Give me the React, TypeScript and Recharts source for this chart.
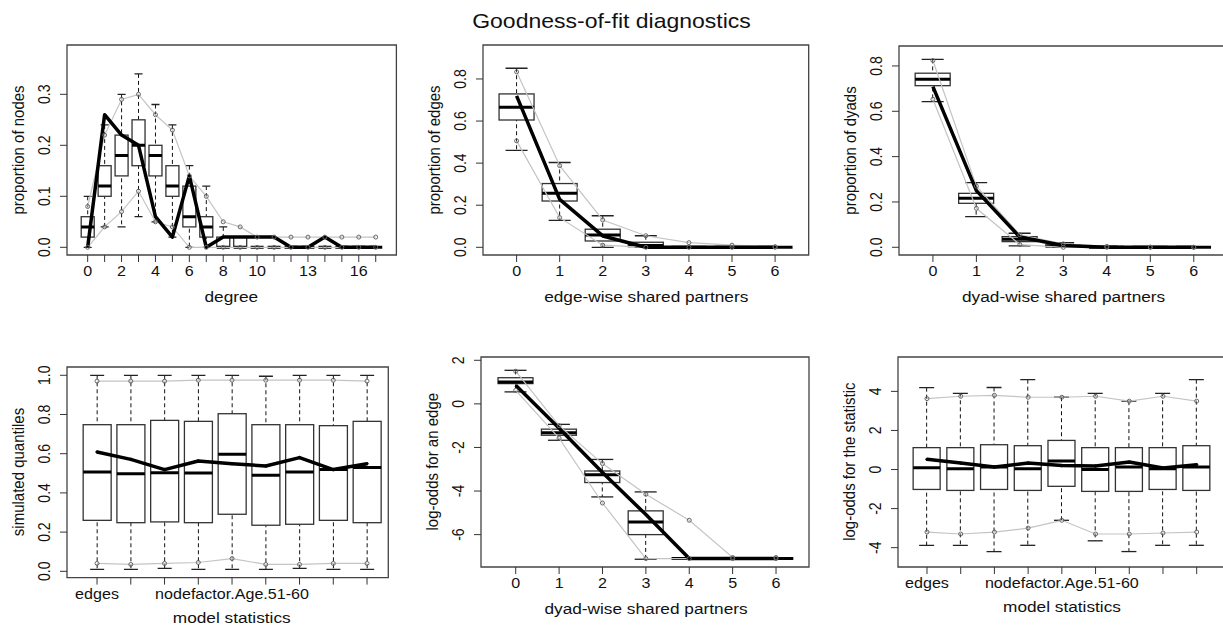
import React from "react";
import {Bar, ComposedChart, Line, ReferenceArea, XAxis, YAxis} from "recharts";

const FONT = '"Liberation Sans", Arial, Helvetica, sans-serif';
// the reference is a little wider than tall, so glyphs get stretched sideways
const STRETCH = 1.15;

// degree
const degreeCats = [0, 1, 2, 3, 4, 5, 6, 7, 8, 9, 10, 11, 12, 13, 14, 15, 16, 17];
const degreeShown = [0, 2, 4, 6, 8, 10, 13, 16];
const degreeLo = [0, 0.04, 0.04, 0.06, 0.05, 0.02, 0, 0, 0, 0, 0, 0, 0, 0, 0, 0, 0, 0];
const degreeQ1 = [0.02, 0.10, 0.14, 0.16, 0.14, 0.10, 0.04, 0.02, 0, 0, 0, 0, 0, 0, 0, 0, 0, 0];
const degreeMed = [0.04, 0.12, 0.18, 0.20, 0.18, 0.12, 0.06, 0.04, 0, 0, 0, 0, 0, 0, 0, 0, 0, 0];
const degreeQ3 = [0.06, 0.16, 0.22, 0.25, 0.20, 0.16, 0.12, 0.06, 0.02, 0.02, 0, 0, 0, 0, 0, 0, 0, 0];
const degreeHi = [0.10, 0.24, 0.30, 0.34, 0.28, 0.24, 0.16, 0.12, 0.04, 0.02, 0, 0, 0, 0, 0, 0, 0, 0];
const degreeSimLo = [0, 0.04, 0.07, 0.11, 0.05, 0.04, 0, 0, 0, 0, 0, 0, 0, 0, 0, 0, 0, 0];
const degreeSimHi = [0.08, 0.22, 0.29, 0.30, 0.26, 0.23, 0.14, 0.10, 0.05, 0.04, 0.02, 0.02, 0.02, 0.02, 0.02, 0.02, 0.02, 0.02];
const degreeObs = [0, 0.26, 0.22, 0.20, 0.06, 0.02, 0.14, 0, 0.02, 0.02, 0.02, 0.02, 0, 0, 0.02, 0, 0, 0];

// edge-wise shared partners
const espCats = [0, 1, 2, 3, 4, 5, 6];
const espLo = [0.461, 0.128, 0, 0, 0, 0, 0];
const espQ1 = [0.605, 0.22, 0.03, 0.003, 0, 0, 0];
const espMed = [0.666, 0.257, 0.059, 0.008, 0, 0, 0];
const espQ3 = [0.729, 0.303, 0.086, 0.024, 0, 0, 0];
const espHi = [0.851, 0.403, 0.15, 0.055, 0, 0, 0];
const espSimLo = [0.506, 0.141, 0.01, 0, 0, 0, 0];
const espSimHi = [0.834, 0.388, 0.13, 0.055, 0.022, 0.01, 0.003];
const espObs = [0.72, 0.228, 0.054, 0, 0, 0, 0];

// dyad-wise shared partners
const dspCats = [0, 1, 2, 3, 4, 5, 6];
const dspLo = [0.643, 0.135, 0.006, 0, 0, 0, 0];
const dspQ1 = [0.713, 0.194, 0.025, 0.003, 0, 0, 0];
const dspMed = [0.741, 0.216, 0.035, 0.006, 0, 0, 0];
const dspQ3 = [0.768, 0.238, 0.047, 0.01, 0.002, 0, 0];
const dspHi = [0.829, 0.285, 0.062, 0.02, 0.005, 0, 0];
const dspSimLo = [0.653, 0.172, 0.012, 0, 0, 0, 0];
const dspSimHi = [0.824, 0.27, 0.055, 0.015, 0.004, 0.001, 0];
const dspObs = [0.709, 0.25, 0.045, 0.008, 0, 0, 0];

// model statistics (quantiles)
const statCats = [0, 1, 2, 3, 4, 5, 6, 7, 8];
const statNames = ["edges", "", "", "", "nodefactor.Age.51-60", "", "", "", ""];
const quantLo = [0.01, 0.01, 0.015, 0.01, 0.01, 0.01, 0.015, 0.01, 0.01];
const quantQ1 = [0.26, 0.248, 0.252, 0.248, 0.291, 0.235, 0.24, 0.26, 0.248];
const quantMed = [0.507, 0.498, 0.503, 0.502, 0.597, 0.49, 0.507, 0.52, 0.529];
const quantQ3 = [0.748, 0.748, 0.77, 0.765, 0.804, 0.748, 0.748, 0.743, 0.765];
const quantHi = [1, 1, 1, 1, 1, 0.995, 1, 1, 1];
const quantSimLo = [0.04, 0.035, 0.04, 0.045, 0.065, 0.035, 0.035, 0.04, 0.04];
const quantSimHi = [0.97, 0.97, 0.97, 0.975, 0.975, 0.975, 0.975, 0.975, 0.97];
const quantObs = [0.609, 0.571, 0.519, 0.563, 0.549, 0.537, 0.58, 0.519, 0.549];

// dyad-wise shared partners, log-odds
const lodCats = [0, 1, 2, 3, 4, 5, 6];
const lodLo = [0.55, -1.67, -4.27, -7.13, -7.1, -7.1, -7.1];
const lodQ1 = [0.93, -1.44, -3.61, -6.0, -7.1, -7.1, -7.1];
const lodMed = [1.0, -1.32, -3.25, -5.42, -7.1, -7.1, -7.1];
const lodQ3 = [1.2, -1.16, -3.08, -4.91, -7.1, -7.1, -7.1];
const lodHi = [1.54, -0.94, -2.55, -4.04, -7.1, -7.1, -7.1];
const lodSimLo = [0.62, -1.57, -4.55, -7.1, -7.1, -7.1, -7.1];
const lodSimHi = [1.5, -1.0, -2.74, -4.15, -5.34, -7.05, -7.05];
const lodObs = [0.85, -1.12, -3.15, -5.08, -7.1, -7.1, -7.1];

// model statistics, log-odds
const slLo = [-3.88, -3.88, -4.2, -3.88, -2.6, -3.65, -4.2, -3.88, -3.88];
const slQ1 = [-1.02, -1.07, -1.02, -1.07, -0.86, -1.12, -1.12, -1.02, -1.07];
const slMed = [0.09, 0.04, 0.13, 0.04, 0.43, 0.0, 0.13, 0.04, 0.13];
const slQ3 = [1.12, 1.12, 1.27, 1.22, 1.49, 1.12, 1.12, 1.12, 1.22];
const slHi = [4.19, 3.9, 4.2, 4.6, 3.7, 3.9, 3.5, 3.9, 4.6];
const slSimLo = [-3.2, -3.3, -3.2, -3.0, -2.6, -3.3, -3.3, -3.25, -3.2];
const slSimHi = [3.63, 3.75, 3.8, 3.7, 3.7, 3.75, 3.5, 3.75, 3.5];
const slObs = [0.52, 0.33, 0.13, 0.33, 0.2, 0.18, 0.38, 0.08, 0.25];

const buildRows = (cats: number[], lo: number[], q1: number[], med: number[], q3: number[],
                   hi: number[], simLo: number[], simHi: number[], obs: number[]) =>
  cats.map((c, i) => ({
    x: c,
    whisker: [lo[i], hi[i]],
    box: [q1[i], q3[i]],
    med: [med[i], med[i]],
    simLo: simLo[i],
    simHi: simHi[i],
    obs: obs[i],
  }));

const whiskerShape = (capW: number) => (p: any) => {
  const cx = p.x + p.width / 2;
  const top = Math.min(p.y, p.y + p.height);
  const bot = Math.max(p.y, p.y + p.height);
  if (bot - top < 0.5) return <g/>;
  return <g>
    <line x1={cx} x2={cx} y1={top} y2={bot} stroke="#111" strokeDasharray="4 3"/>
    <line x1={cx - capW / 2} x2={cx + capW / 2} y1={top} y2={top} stroke="#222" strokeWidth={1.3}/>
    <line x1={cx - capW / 2} x2={cx + capW / 2} y1={bot} y2={bot} stroke="#222" strokeWidth={1.3}/>
  </g>;
};

const boxShape = (p: any) => {
  const top = Math.min(p.y, p.y + p.height);
  const h = Math.abs(p.height);
  return <rect x={p.x} y={top} width={p.width} height={h} fill="#fff" stroke="#333" strokeWidth={1.3}/>;
};

const medShape = (p: any) =>
  <line x1={p.x} x2={p.x + p.width} y1={p.y} y2={p.y} stroke="#000" strokeWidth={3}/>;

const greyDot = {r: 2, stroke: "#666", strokeWidth: 1, fill: "none"};
const obsDot = {r: 1.2, fill: "#000", stroke: "#000", strokeWidth: 1};

interface PanelProps {
  frame: number[];
  xDomain: number[];
  yDomain: number[];
  xTicks: number[];
  yTicks: number[];
  xFmt: (v: number) => string;
  yFmt: (v: number) => string;
  rows: any[];
  boxW: number;
  capW: number;
  obsDots?: boolean;
}

const Panel = (props: PanelProps) => {
  const [fl, ft, fr, fb] = props.frame;
  const w = fr - fl;
  const h = fb - ft;
  const xTick = (t: any) =>
    <text transform={`translate(${t.x},${t.y + 12}) scale(${STRETCH},1)`} textAnchor="middle"
          fontSize={14} fontFamily={FONT} fill="#111">{props.xFmt(t.payload.value)}</text>;
  const yTick = (t: any) =>
    <text transform={`translate(${t.x - 8},${t.y}) scale(${STRETCH},1) rotate(-90)`} textAnchor="middle"
          fontSize={14} fontFamily={FONT} fill="#111">{props.yFmt(t.payload.value)}</text>;
  return (
    <div style={{position: "absolute", left: fl - 60, top: ft - 5}}>
      <ComposedChart width={w + 65} height={h + 60} data={props.rows}
                     margin={{top: 5, right: 5, left: 0, bottom: 0}}
                     barSize={props.boxW} barGap={-props.boxW}>
        <XAxis dataKey="x" type="number" domain={props.xDomain} allowDataOverflow ticks={props.xTicks}
               interval={0} tick={xTick} tickSize={7} axisLine={false} stroke="#333" height={55}/>
        <YAxis type="number" domain={props.yDomain} allowDataOverflow ticks={props.yTicks}
               interval={0} tick={yTick} tickSize={7} axisLine={false} stroke="#333" width={60}/>
        <ReferenceArea x1={props.xDomain[0]} x2={props.xDomain[1]} y1={props.yDomain[0]} y2={props.yDomain[1]}
                       fill="none" stroke="#444" strokeWidth={1.3} fillOpacity={0} ifOverflow="visible"/>
        <Bar dataKey="whisker" shape={whiskerShape(props.capW)} isAnimationActive={false}/>
        <Bar dataKey="box" shape={boxShape} isAnimationActive={false}/>
        <Bar dataKey="med" shape={medShape} isAnimationActive={false}/>
        <Line dataKey="simHi" stroke="#c4c4c4" strokeWidth={1.2} dot={greyDot} isAnimationActive={false}/>
        <Line dataKey="simLo" stroke="#c4c4c4" strokeWidth={1.2} dot={greyDot} isAnimationActive={false}/>
        <Line dataKey="obs" stroke="#000" strokeWidth={3.5} strokeLinejoin="round"
              dot={props.obsDots ? obsDot : false} isAnimationActive={false}/>
      </ComposedChart>
    </div>
  );
};

const fmt1 = (v: number) => v.toFixed(1);
const fmtInt = (v: number) => String(v);

const TitleText = ({x, y, text, size, rotate}: {x: number, y: number, text: string, size: number, rotate?: boolean}) =>
  <text transform={`translate(${x},${y}) scale(${STRETCH},1)${rotate ? " rotate(-90)" : ""}`}
        textAnchor="middle" fontSize={size} fontFamily={FONT} fill="#111">{text}</text>;

export default function App() {
  return (
    <div style={{position: "absolute", left: 0, top: 0, width: 1223, height: 628, overflow: "hidden",
      background: "#fff"}}>
      <Panel frame={[66.6, 45, 396, 255]} xDomain={[-1.22, 18.22]} yDomain={[-0.0151, 0.3967]}
             xTicks={degreeCats} yTicks={[0, 0.1, 0.2, 0.3]}
             xFmt={(v) => degreeShown.includes(v) ? String(v) : ""} yFmt={fmt1}
             rows={buildRows(degreeCats, degreeLo, degreeQ1, degreeMed, degreeQ3, degreeHi, degreeSimLo, degreeSimHi, degreeObs)}
             boxW={13} capW={8}/>
      <Panel frame={[483.3, 45, 809, 255]} xDomain={[-0.78, 6.78]} yDomain={[-0.0366, 0.9615]}
             xTicks={espCats} yTicks={[0, 0.2, 0.4, 0.6, 0.8]} xFmt={fmtInt} yFmt={fmt1}
             rows={buildRows(espCats, espLo, espQ1, espMed, espQ3, espHi, espSimLo, espSimHi, espObs)}
             boxW={35} capW={22}/>
      <Panel frame={[899.3, 46, 1228, 255]} xDomain={[-0.78, 6.78]} yDomain={[-0.034, 0.888]}
             xTicks={dspCats} yTicks={[0, 0.2, 0.4, 0.6, 0.8]} xFmt={fmtInt} yFmt={fmt1}
             rows={buildRows(dspCats, dspLo, dspQ1, dspMed, dspQ3, dspHi, dspSimLo, dspSimHi, dspObs)}
             boxW={35} capW={22}/>
      <Panel frame={[66.7, 366.7, 388, 577.3]} xDomain={[-0.89, 8.63]} yDomain={[-0.0321, 1.0423]}
             xTicks={statCats} yTicks={[0, 0.2, 0.4, 0.6, 0.8, 1.0]} xFmt={(v) => statNames[v] ?? ""} yFmt={fmt1}
             rows={buildRows(statCats, quantLo, quantQ1, quantMed, quantQ3, quantHi, quantSimLo, quantSimHi, quantObs)}
             boxW={28} capW={14} obsDots/>
      <Panel frame={[481, 356.7, 809, 566.7]} xDomain={[-0.8, 6.76]} yDomain={[-7.486, 2.151]}
             xTicks={lodCats} yTicks={[-6, -4, -2, 0, 2]} xFmt={fmtInt} yFmt={fmtInt}
             rows={buildRows(lodCats, lodLo, lodQ1, lodMed, lodQ3, lodHi, lodSimLo, lodSimHi, lodObs)}
             boxW={35} capW={22}/>
      <Panel frame={[898.3, 356.7, 1226, 566.7]} xDomain={[-0.86, 8.86]} yDomain={[-4.99, 5.76]}
             xTicks={statCats} yTicks={[-4, -2, 0, 2, 4]} xFmt={(v) => statNames[v] ?? ""} yFmt={fmtInt}
             rows={buildRows(statCats, slLo, slQ1, slMed, slQ3, slHi, slSimLo, slSimHi, slObs)}
             boxW={27} capW={15} obsDots/>
      <svg width={1223} height={628} style={{position: "absolute", left: 0, top: 0, pointerEvents: "none"}}>
        <TitleText x={611.5} y={28} text="Goodness-of-fit diagnostics" size={20}/>
        <TitleText x={231.3} y={301.7} text="degree" size={15}/>
        <TitleText x={646.2} y={301.7} text="edge-wise shared partners" size={15}/>
        <TitleText x={1063.6} y={301.7} text="dyad-wise shared partners" size={15}/>
        <TitleText x={231.7} y={623} text="model statistics" size={15}/>
        <TitleText x={646} y={614} text="dyad-wise shared partners" size={15}/>
        <TitleText x={1062} y={612} text="model statistics" size={15}/>
        <TitleText x={23.6} y={150} text="proportion of nodes" size={15} rotate/>
        <TitleText x={440.3} y={150} text="proportion of edges" size={15} rotate/>
        <TitleText x={856.3} y={150.5} text="proportion of dyads" size={15} rotate/>
        <TitleText x={23.7} y={472} text="simulated quantiles" size={15} rotate/>
        <TitleText x={438} y={461.7} text="log-odds for an edge" size={15} rotate/>
        <TitleText x={855.3} y={461.7} text="log-odds for the statistic" size={15} rotate/>
      </svg>
    </div>
  );
}
